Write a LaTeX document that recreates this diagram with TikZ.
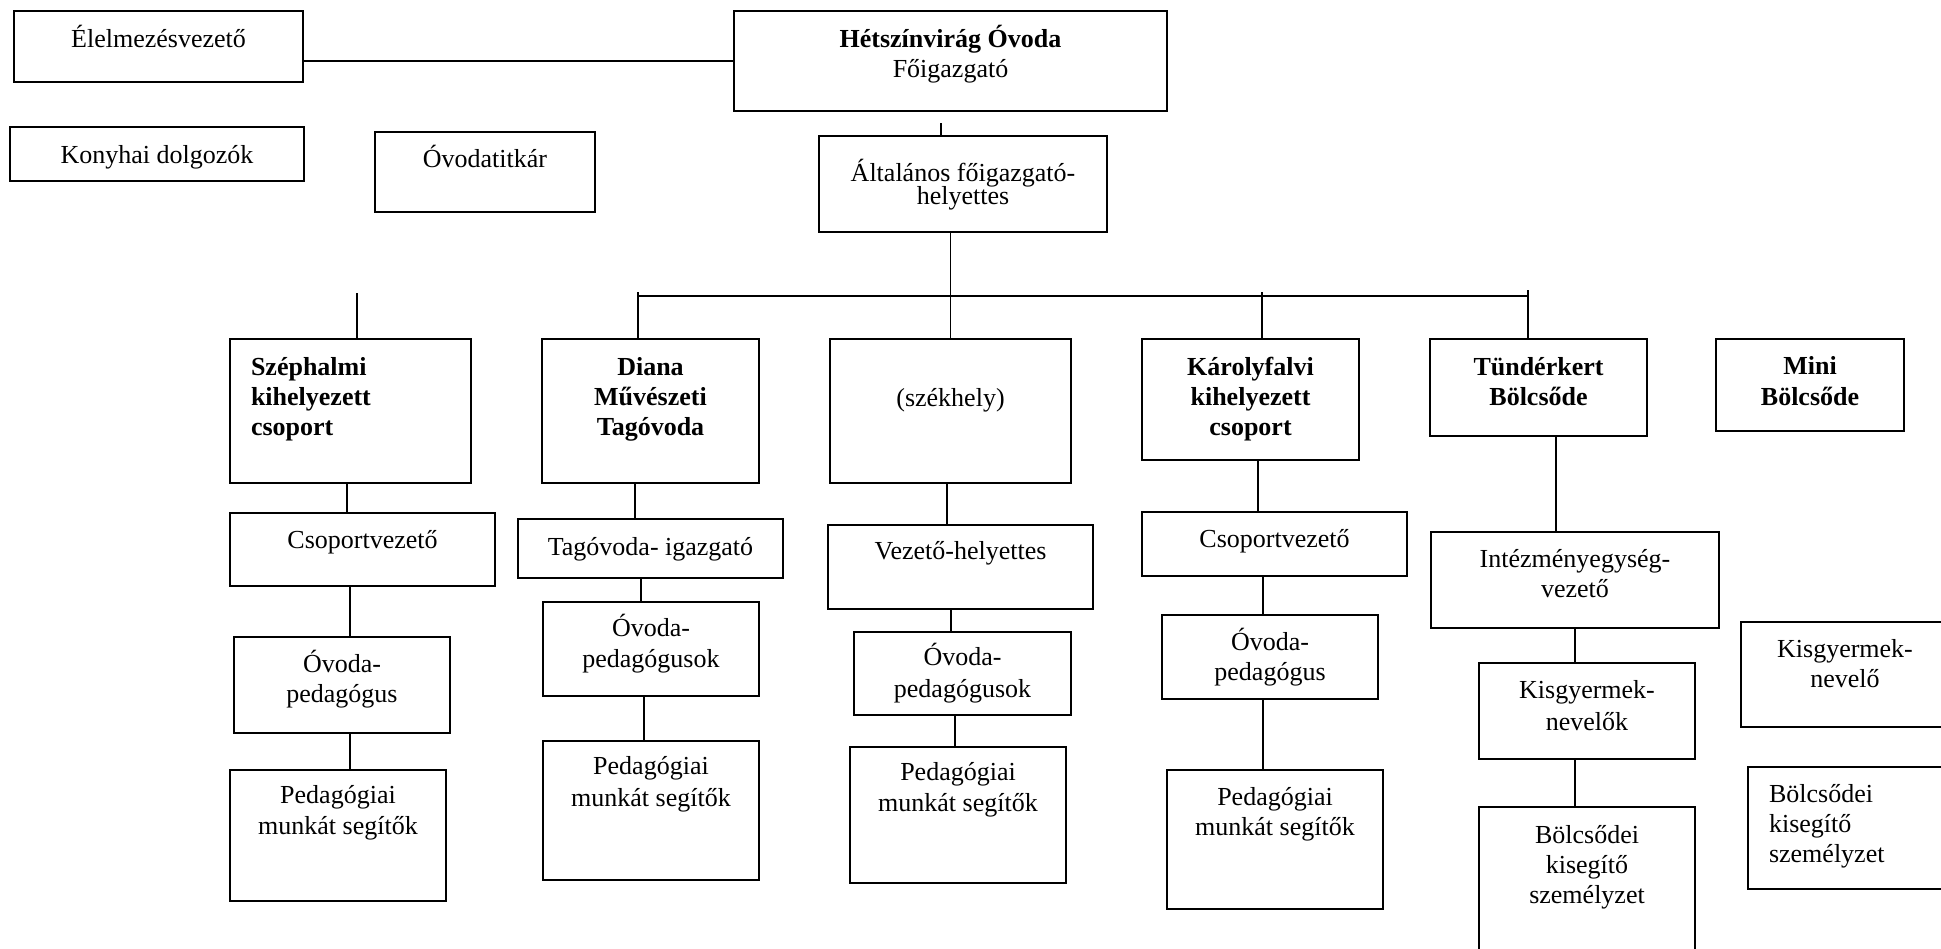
\documentclass[tikz,border=0pt]{standalone}
\usepackage{fontspec}
\setmainfont{Liberation Serif}
\tikzset{
  box/.style={draw=black, line width=0.9pt, inner sep=0pt, outer sep=0pt, fill=white},
  conn/.style={draw=black, line width=0.8pt}
}
% name, x, y, w, h, first-baseline offset, line spacing, alignment, text  (all in px)
\newcommand{\bx}[9]{%
  \node[box, anchor=north west] (#1) at (#2,#3)
  {\parbox[t][\dimexpr #5pt/2\relax][t]{\dimexpr #4pt/2\relax}{%
    \fontsize{13pt}{15pt}\selectfont\baselineskip=\dimexpr #7pt/2\relax
    \lineskiplimit=-20pt #8\rule{0pt}{\dimexpr #6pt/2\relax}#9\par}};}
\newcommand{\indentleft}{\raggedright\leftskip=10.5pt\relax}
\begin{document}
\begin{tikzpicture}[x=0.5pt,y=-0.5pt]
\fill[white] (0,0) rectangle (1941,948);
\useasboundingbox (0,0) rectangle (1941,948);

% top row
\bx{elelm}{14}{11}{289}{71}{36}{30}{\centering}{Élelmezésvezető}
\bx{konyha}{10}{127}{294}{54}{36}{30}{\centering}{Konyhai dolgozók}
\bx{titkar}{375}{132}{220}{80}{35}{30}{\centering}{Óvodatitkár}
\bx{heti}{734}{11}{433}{100}{36}{30}{\centering}{\textbf{Hétszínvirág Óvoda}\\Főigazgató}
\bx{alt}{819}{136}{288}{96}{45}{23}{\centering}{Általános főigazgató-\\helyettes}

% units
\bx{szeph}{230}{339}{241}{144}{36}{30}{\indentleft}{\textbf{Széphalmi}\\\textbf{kihelyezett}\\\textbf{csoport}}
\bx{diana}{542}{339}{217}{144}{36}{30}{\centering}{\textbf{Diana}\\\textbf{Művészeti}\\\textbf{Tagóvoda}}
\bx{szekhely}{830}{339}{241}{144}{67}{30}{\centering}{(székhely)}
\bx{karoly}{1142}{339}{217}{121}{36}{30}{\centering}{\textbf{Károlyfalvi}\\\textbf{kihelyezett}\\\textbf{csoport}}
\bx{tund}{1430}{339}{217}{97}{36}{30}{\centering}{\textbf{Tündérkert}\\\textbf{Bölcsőde}}
\bx{mini}{1716}{339}{188}{92}{35}{31}{\centering}{\textbf{Mini}\\\textbf{Bölcsőde}}

% leaders
\bx{csL}{230}{513}{265}{73}{35}{30}{\centering}{Csoportvezető}
\bx{tag}{518}{519}{265}{59}{36}{30}{\centering}{Tagóvoda- igazgató}
\bx{vez}{828}{525}{265}{84}{34}{30}{\centering}{Vezető-helyettes}
\bx{csK}{1142}{512}{265}{64}{35}{30}{\centering}{Csoportvezető}
\bx{int}{1431}{532}{288}{96}{35}{30}{\centering}{Intézményegység-\\vezető}

% teachers
\bx{ovL}{234}{637}{216}{96}{35}{30}{\centering}{Óvoda-\\pedagógus}
\bx{ovD}{543}{602}{216}{94}{34}{31}{\centering}{Óvoda-\\pedagógusok}
\bx{ovS}{854}{632}{217}{83}{33}{32}{\centering}{Óvoda-\\pedagógusok}
\bx{ovK}{1162}{615}{216}{84}{35}{30}{\centering}{Óvoda-\\pedagógus}
\bx{kisg}{1479}{663}{216}{96}{35}{32}{\centering}{Kisgyermek-\\nevelők}
\bx{kisgR}{1741}{622}{208}{105}{35}{30}{\centering}{Kisgyermek-\\nevelő}

% helpers
\bx{pedL}{230}{770}{216}{131}{33}{31}{\centering}{Pedagógiai\\munkát segítők}
\bx{pedD}{543}{741}{216}{139}{33}{32}{\centering}{Pedagógiai\\munkát segítők}
\bx{pedS}{850}{747}{216}{136}{33}{31}{\centering}{Pedagógiai\\munkát segítők}
\bx{pedK}{1167}{770}{216}{139}{35}{30}{\centering}{Pedagógiai\\munkát segítők}
\bx{bolcs}{1479}{807}{216}{160}{36}{30}{\centering}{Bölcsődei\\kisegítő\\személyzet}
\bx{bolcsR}{1748}{767}{205}{122}{35}{30}{\indentleft}{Bölcsődei\\kisegítő\\személyzet}

% connectors top
\draw[conn] (elelm.east |- heti.west) -- (heti.west);
\coordinate (hA) at (941,123);
\draw[conn] (hA) -- (hA |- alt.north);
\draw[conn] (alt.south -| szekhely.north) -- (szekhely.north);
\coordinate (busL) at (638,296);
\coordinate (busR) at (1528,296);
\draw[conn] (busL) -- (busR);
\coordinate (dD) at (638,292);
\coordinate (dK) at (1262,292);
\coordinate (dT) at (1528,290);
\coordinate (sT) at (357,293);
\draw[conn] (dD) -- (dD |- diana.north);
\draw[conn] (dK) -- (dK |- karoly.north);
\draw[conn] (dT) -- (dT |- tund.north);
\draw[conn] (sT) -- (sT |- szeph.north);

% column connectors
\draw[conn] (347,0 |- szeph.south) -- (347,0 |- csL.north);
\draw[conn] (350,0 |- csL.south) -- (350,0 |- ovL.north);
\draw[conn] (350,0 |- ovL.south) -- (350,0 |- pedL.north);

\draw[conn] (635,0 |- diana.south) -- (635,0 |- tag.north);
\draw[conn] (641,0 |- tag.south) -- (641,0 |- ovD.north);
\draw[conn] (644,0 |- ovD.south) -- (644,0 |- pedD.north);

\draw[conn] (947,0 |- szekhely.south) -- (947,0 |- vez.north);
\draw[conn] (951,0 |- vez.south) -- (951,0 |- ovS.north);
\draw[conn] (955,0 |- ovS.south) -- (955,0 |- pedS.north);

\draw[conn] (1258,0 |- karoly.south) -- (1258,0 |- csK.north);
\draw[conn] (1263,0 |- csK.south) -- (1263,0 |- ovK.north);
\draw[conn] (1263,0 |- ovK.south) -- (1263,0 |- pedK.north);

\draw[conn] (1556,0 |- tund.south) -- (1556,0 |- int.north);
\draw[conn] (1575,0 |- int.south) -- (1575,0 |- kisg.north);
\draw[conn] (1575,0 |- kisg.south) -- (1575,0 |- bolcs.north);
\end{tikzpicture}
\end{document}
